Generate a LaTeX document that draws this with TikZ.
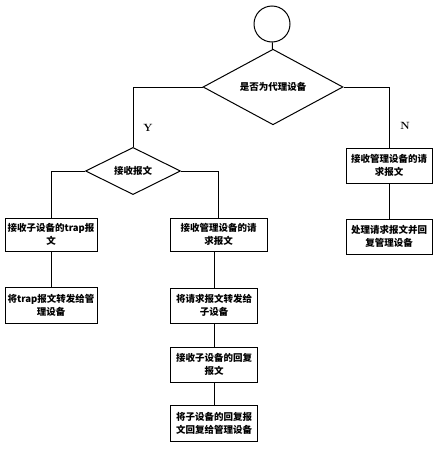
\documentclass[tikz,border=0pt]{standalone}
\usepackage{fontspec}
\newfontfamily\cjk{Noto Sans CJK SC}
\usetikzlibrary{shapes.geometric}

\begin{document}
\begin{tikzpicture}[x=1pt,y=-1pt,line width=1pt,
  bx/.style={rectangle,draw,inner sep=0pt,align=center,
    font=\cjk\bfseries\fontsize{9.5}{13}\selectfont},
  dm/.style={diamond,draw,inner sep=0pt,
    font=\cjk\bfseries\fontsize{9.5}{13}\selectfont},
  lb/.style={font=\bfseries\fontsize{10.5}{11}\selectfont}]

\useasboundingbox (0,0) rectangle (445,450);

% start and decisions
\node[circle,draw,minimum size=36pt,inner sep=0pt] (start) at (272,24) {};

\node[dm,minimum width=140pt,minimum height=40pt] (proxy) at (273,87) {是否为代理设备};
\node[dm,minimum width=95pt,minimum height=46pt] (recv) at (133,171) {接收报文};

% right branch
\node[bx,minimum width=86pt,minimum height=35pt] (mreq) at (389,165.5) {接收管理设备的请\\求报文};
\node[bx,minimum width=86pt,minimum height=35pt] (proc) at (389,236.5) {处理请求报文并回\\复管理设备};

% left branch
\node[bx,minimum width=92pt,minimum height=33pt] (trap) at (51,234.5) {接收子设备的trap报\\文};
\node[bx,minimum width=92pt,minimum height=36pt] (fwd) at (51,305) {将trap报文转发给管\\理设备};

% middle branch
\node[bx,minimum width=97pt,minimum height=33pt] (req) at (218.5,234.5) {接收管理设备的请\\求报文};
\node[bx,minimum width=87pt,minimum height=35pt] (send) at (214,305.5) {将请求报文转发给\\子设备};
\node[bx,minimum width=87pt,minimum height=35pt] (reply) at (214,364.5) {接收子设备的回复\\报文};
\node[bx,minimum width=87pt,minimum height=36pt] (back) at (214,423) {将子设备的回复报\\文回复给管理设备};

% lines
\draw (start) -- (proxy);
\draw (proxy.west) -| (recv.north);
\draw (proxy.east) -| (mreq.north);
\draw (mreq) -- (proc);

\draw (recv.west) -| (trap.north);
\draw (recv.east) -| (req.north);
\draw (trap) -- (fwd);

\draw (send.north |- req.south) -- (send.north);
\draw (send) -- (reply);
\draw (reply) -- (back);

\node[lb] (yes) at (148,128) {Y};
\node[lb] (no) at (405,126) {N};

\end{tikzpicture}
\end{document}
